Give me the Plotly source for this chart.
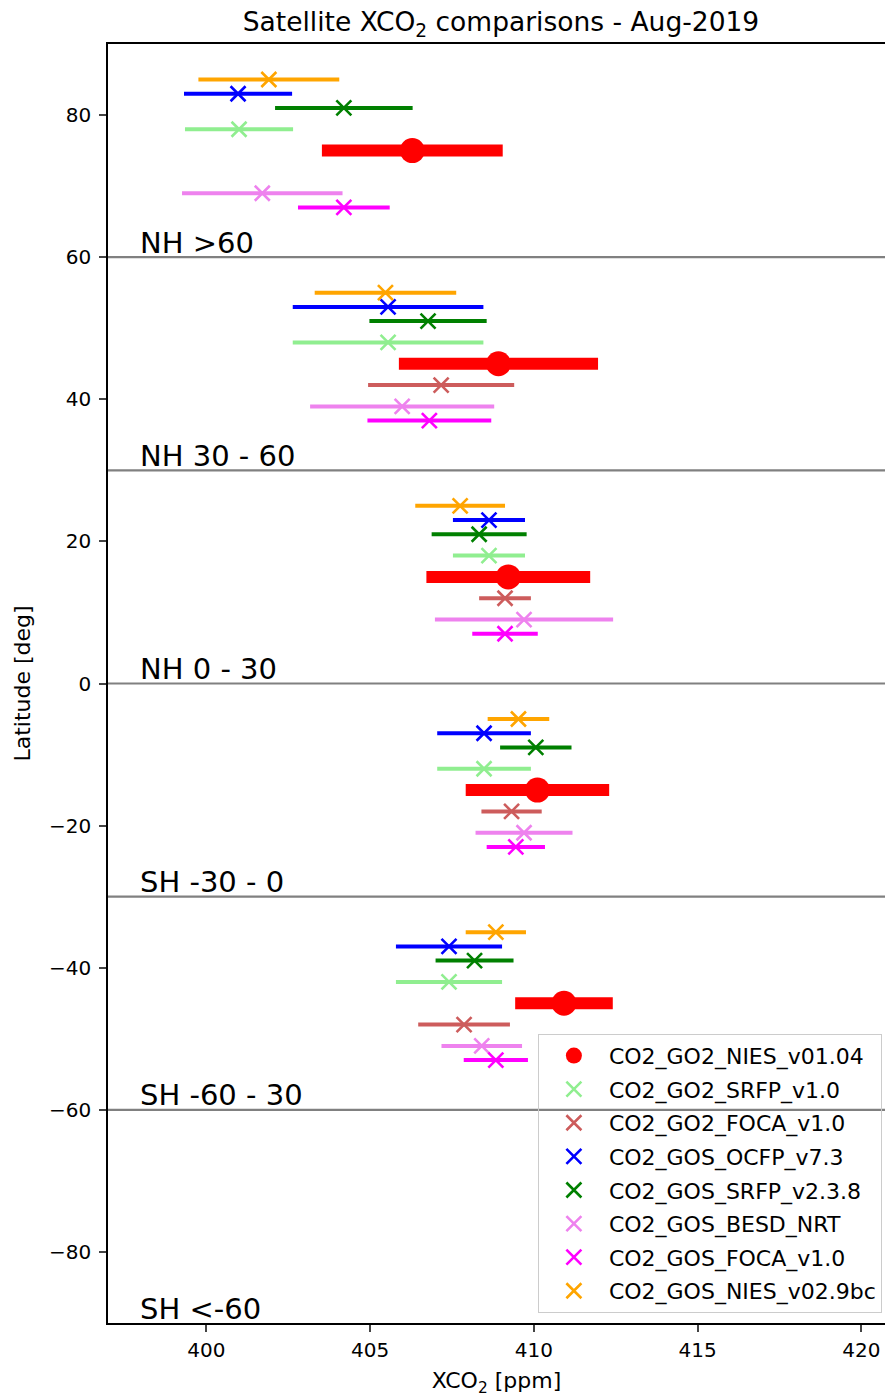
import plotly.graph_objects as go

# ---------------- data ----------------
region_labels = ["NH >60", "NH 30 - 60", "NH 0 - 30", "SH -30 - 0", "SH -60 - 30", "SH <-60"]
region_lower = [60, 30, 0, -30, -60, -90]
region_bounds = [60, 30, 0, -30, -60]

products = [
    "CO2_GO2_NIES_v01.04",
    "CO2_GO2_SRFP_v1.0",
    "CO2_GO2_FOCA_v1.0",
    "CO2_GOS_OCFP_v7.3",
    "CO2_GOS_SRFP_v2.3.8",
    "CO2_GOS_BESD_NRT",
    "CO2_GOS_FOCA_v1.0",
    "CO2_GOS_NIES_v02.9bc",
]
# latitude offset of each product within a region band (relative to band centre)
lat_offset = [0, 3, -3, 8, 6, -6, -8, 10]

# mean XCO2 per region (NH>60, NH30-60, NH0-30, SH-30-0, SH-60-30); SH<-60 has no data
xco2_mean = {
    "CO2_GO2_NIES_v01.04":  [406.29, 408.92, 409.22, 410.11, 410.92],
    "CO2_GO2_SRFP_v1.0":    [401.00, 405.55, 408.63, 408.48, 407.41],
    "CO2_GO2_FOCA_v1.0":    [None,   407.17, 409.12, 409.32, 407.87],
    "CO2_GOS_OCFP_v7.3":    [400.97, 405.55, 408.63, 408.48, 407.41],
    "CO2_GOS_SRFP_v2.3.8":  [404.20, 406.77, 408.33, 410.06, 408.19],
    "CO2_GOS_BESD_NRT":     [401.71, 405.98, 409.70, 409.70, 408.41],
    "CO2_GOS_FOCA_v1.0":    [404.20, 406.81, 409.12, 409.45, 408.84],
    "CO2_GOS_NIES_v02.9bc": [401.91, 405.47, 407.75, 409.53, 408.84],
}
xco2_std = {
    "CO2_GO2_NIES_v01.04":  [2.76, 3.04, 2.50, 2.19, 1.49],
    "CO2_GO2_SRFP_v1.0":    [1.65, 2.91, 1.10, 1.43, 1.62],
    "CO2_GO2_FOCA_v1.0":    [None, 2.23, 0.79, 0.92, 1.40],
    "CO2_GOS_OCFP_v7.3":    [1.65, 2.91, 1.10, 1.43, 1.62],
    "CO2_GOS_SRFP_v2.3.8":  [2.10, 1.79, 1.45, 1.09, 1.19],
    "CO2_GOS_BESD_NRT":     [2.45, 2.81, 2.72, 1.48, 1.23],
    "CO2_GOS_FOCA_v1.0":    [1.40, 1.89, 1.00, 0.89, 0.98],
    "CO2_GOS_NIES_v02.9bc": [2.15, 2.16, 1.37, 0.94, 0.92],
}

x_ticks = [400, 405, 410, 415, 420]
y_ticks = [-80, -60, -40, -20, 0, 20, 40, 60, 80]

# ---------------- styles ----------------
colors = ["red", "lightgreen", "indianred", "blue", "green", "violet", "magenta", "orange"]
FONT = "DejaVu Sans"

fig = go.Figure()

for i, p in enumerate(products):
    xs, ys, es = [], [], []
    for r in range(5):
        v = xco2_mean[p][r]
        if v is None:
            continue
        xs.append(v)
        es.append(xco2_std[p][r])
        ys.append(region_lower[r] + 15 + lat_offset[i])
    if i == 0:
        marker = dict(symbol="circle", size=25, color=colors[i])
        thick = 12
    else:
        marker = dict(symbol="x-thin", size=15, color=colors[i],
                      line=dict(width=2.6, color=colors[i]))
        thick = 4
    fig.add_trace(go.Scatter(
        x=xs, y=ys, mode="markers", name=p, marker=marker,
        error_x=dict(type="data", array=es, symmetric=True, width=0,
                     thickness=thick, color=colors[i]),
        legendgroup=p,
    ))

for b in region_bounds:
    fig.add_shape(type="line", xref="paper", x0=0, x1=1, yref="y", y0=b, y1=b,
                  line=dict(color="gray", width=2.2), layer="above")

for lab, low in zip(region_labels, region_lower):
    fig.add_annotation(x=397.92, y=low, xref="x", yref="y", text=lab, showarrow=False,
                       xanchor="left", yanchor="bottom", yshift=-4.5,
                       font=dict(family=FONT, size=29, color="black"))

fig.update_layout(
    width=885, height=1397,
    margin=dict(l=108, r=0, t=44, b=74),
    paper_bgcolor="white", plot_bgcolor="white",
    font=dict(family=FONT, size=22, color="black"),
    title=dict(text="Satellite XCO<sub>2</sub> comparisons - Aug-2019",
               x=501 / 885, xref="container", xanchor="center",
               y=1 - 22 / 1397, yref="container", yanchor="middle",
               font=dict(family=FONT, size=26.5, color="black")),
    showlegend=True,
    legend=dict(x=0.996, y=0.008, xanchor="right", yanchor="bottom",
                bgcolor="rgba(255,255,255,0)", bordercolor="#cccccc", borderwidth=1,
                font=dict(family=FONT, size=22, color="black"),
                traceorder="grouped", tracegroupgap=2, itemwidth=60),
)

fig.update_xaxes(range=[397, 420.72], tickvals=x_ticks, ticks="outside", ticklen=7, tickwidth=1.5,
                 showline=True, linecolor="black", linewidth=1.5, mirror=True,
                 showgrid=False, zeroline=False, ticklabelstandoff=1,
                 tickfont=dict(family=FONT, size=20),
                 title=dict(text="XCO<sub>2</sub> [ppm]", standoff=13,
                            font=dict(family=FONT, size=22)))
fig.update_yaxes(range=[-90, 90], tickvals=y_ticks, ticks="outside", ticklen=7, tickwidth=1.5,
                 showline=True, linecolor="black", linewidth=1.5, mirror=False,
                 showgrid=False, zeroline=False, ticklabelstandoff=4,
                 tickfont=dict(family=FONT, size=20),
                 title=dict(text="Latitude [deg]", standoff=12,
                            font=dict(family=FONT, size=22)))

fig.write_html("out.html")
